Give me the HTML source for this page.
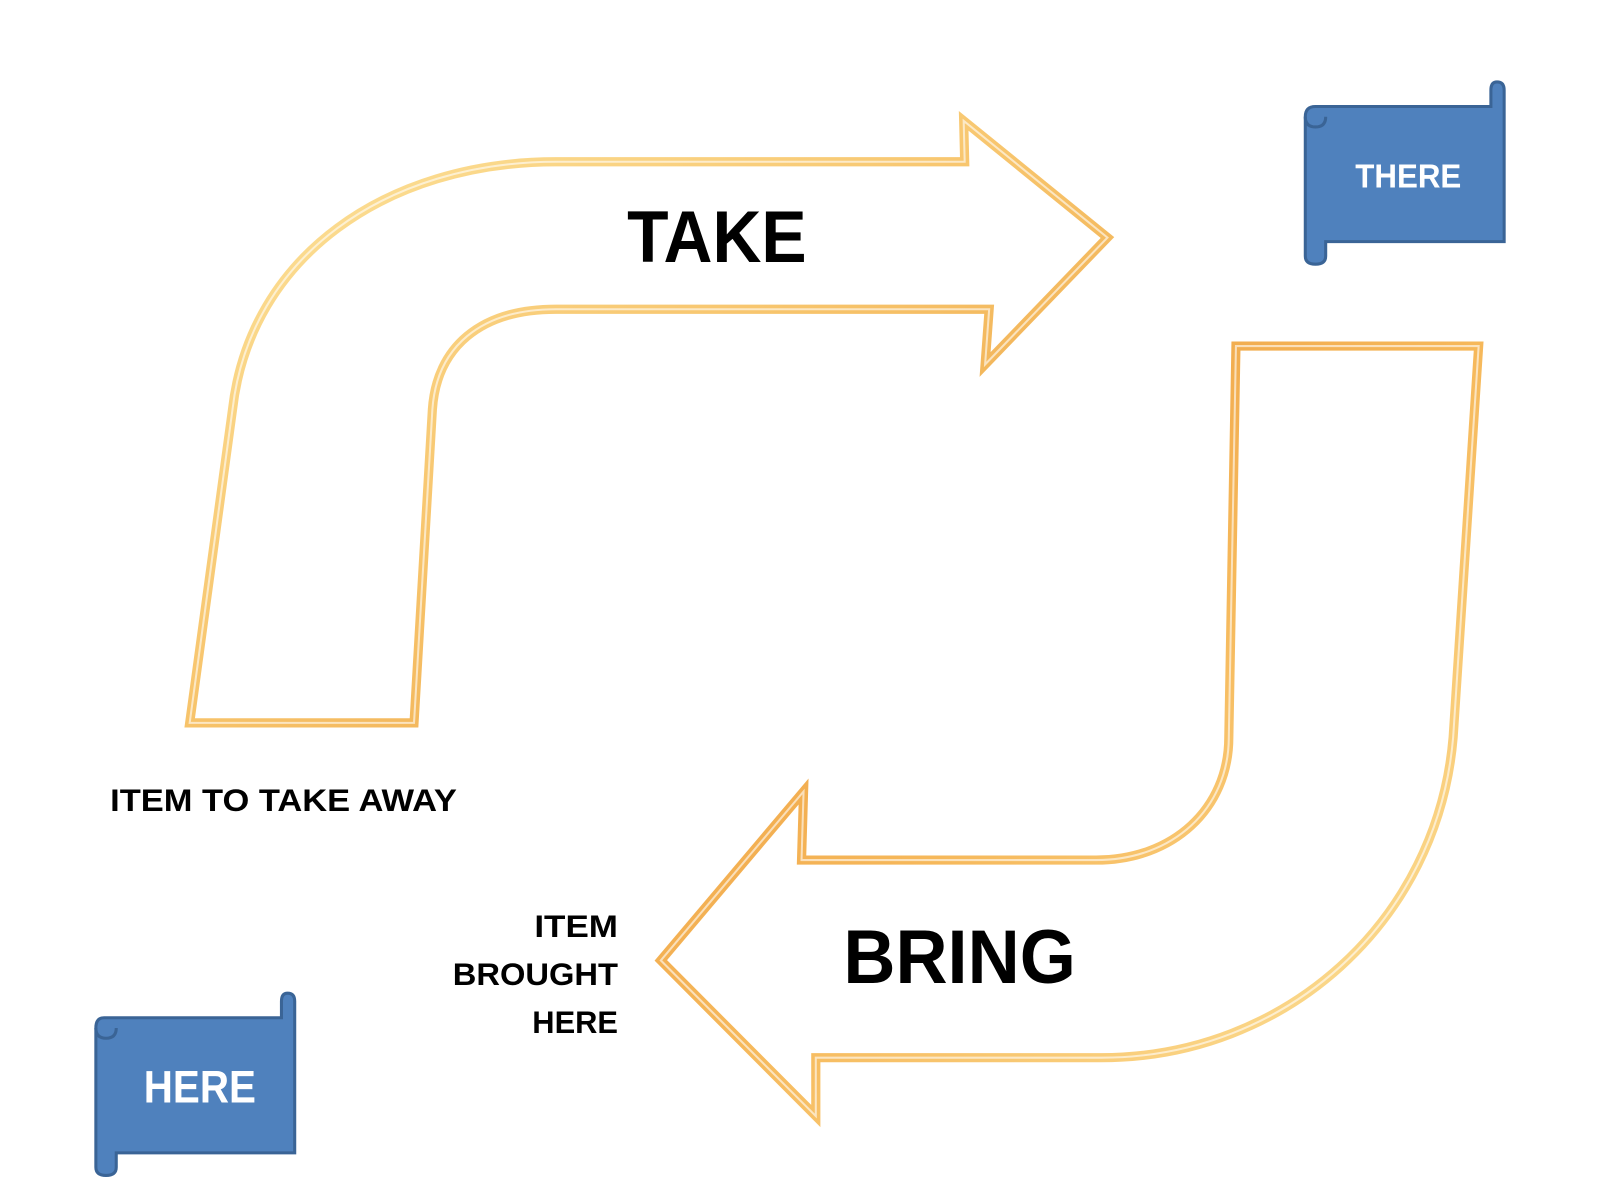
<!DOCTYPE html>
<html><head><meta charset="utf-8"><style>html,body{margin:0;padding:0;background:#fff;}svg{display:block}</style></head>
<body>
<svg width="1600" height="1200" viewBox="0 0 1569 1172" preserveAspectRatio="none" xmlns="http://www.w3.org/2000/svg">
<defs>
<linearGradient id="g1" x1="0" y1="0" x2="1" y2="1">
<stop offset="0" stop-color="#fde6a0"/><stop offset="0.5" stop-color="#f7c36a"/><stop offset="1" stop-color="#e99a3a"/>
</linearGradient>
<linearGradient id="g2" x1="1" y1="1" x2="0" y2="0">
<stop offset="0" stop-color="#fde6a0"/><stop offset="0.5" stop-color="#f6b85a"/><stop offset="1" stop-color="#e9953a"/>
</linearGradient>
</defs>
<path d="M186,706 L228,400 C245,250 380,158 545,158 L946,158 L945,118 L1086,232 L966,356 L970,302 L545,302 C470,302 428,340 424,400 L406,706 Z" fill="#fff" stroke="url(#g1)" stroke-width="9" stroke-linejoin="miter"/>
<path d="M186,706 L228,400 C245,250 380,158 545,158 L946,158 L945,118 L1086,232 L966,356 L970,302 L545,302 C470,302 428,340 424,400 L406,706 Z" fill="none" stroke="#fff" stroke-width="2" opacity="0.6"/>
<path d="M1450,338 L1425,720 C1410,900 1260,1033 1080,1033 L800,1033 L800,1090 L648,938 L788,773 L786,840 L1075,840 C1150,840 1205,790 1205,720 L1212,338 Z" fill="#fff" stroke="url(#g2)" stroke-width="9" stroke-linejoin="miter"/>
<path d="M1450,338 L1425,720 C1410,900 1260,1033 1080,1033 L800,1033 L800,1090 L648,938 L788,773 L786,840 L1075,840 C1150,840 1205,790 1205,720 L1212,338 Z" fill="none" stroke="#fff" stroke-width="2" opacity="0.6"/>
<g stroke="#3a6496" stroke-width="3" fill="#4f81bd">
<path d="M1290,104 L1462,104 L1462,88 Q1462,80 1468,80 Q1475,80 1475,88 L1475,236 L1300,236 L1300,250 Q1300,258 1290,258 Q1280,258 1280,250 L1280,114 Q1280,104 1290,104 Z"/>
<path d="M1280,114 Q1280,124 1290,124 Q1300,124 1300,114" fill="none"/>
</g>
<text x="1381" y="183" font-family="Liberation Sans, sans-serif" font-weight="bold" font-size="33" fill="#fff" text-anchor="middle" textLength="104" lengthAdjust="spacingAndGlyphs">THERE</text>
<g stroke="#3a6496" stroke-width="3" fill="#4f81bd">
<path d="M102,994 L276,994 L276,978 Q276,970 282,970 Q289,970 289,978 L289,1126 L114,1126 L114,1140 Q114,1148 104,1148 Q94,1148 94,1140 L94,1004 Q94,994 102,994 Z"/>
<path d="M94,1004 Q94,1014 104,1014 Q114,1014 114,1004" fill="none"/>
</g>
<text x="196" y="1077" font-family="Liberation Sans, sans-serif" font-weight="bold" font-size="44" fill="#fff" text-anchor="middle" textLength="110" lengthAdjust="spacingAndGlyphs">HERE</text>
<text x="703" y="256" font-family="Liberation Sans, sans-serif" font-weight="bold" font-size="72" fill="#000" text-anchor="middle" textLength="176" lengthAdjust="spacingAndGlyphs">TAKE</text>
<text x="941" y="960" font-family="Liberation Sans, sans-serif" font-weight="bold" font-size="74" fill="#000" text-anchor="middle" textLength="228" lengthAdjust="spacingAndGlyphs">BRING</text>
<text x="108" y="792" font-family="Liberation Sans, sans-serif" font-weight="bold" font-size="31" fill="#000" textLength="340" lengthAdjust="spacingAndGlyphs">ITEM  TO TAKE AWAY</text>
<g font-family="Liberation Sans, sans-serif" font-weight="bold" font-size="31" fill="#000" text-anchor="end">
<text x="606" y="915" textLength="82" lengthAdjust="spacingAndGlyphs">ITEM</text>
<text x="606" y="962" textLength="162" lengthAdjust="spacingAndGlyphs">BROUGHT</text>
<text x="606" y="1009" textLength="84" lengthAdjust="spacingAndGlyphs">HERE</text>
</g>
</svg>
</body></html>
